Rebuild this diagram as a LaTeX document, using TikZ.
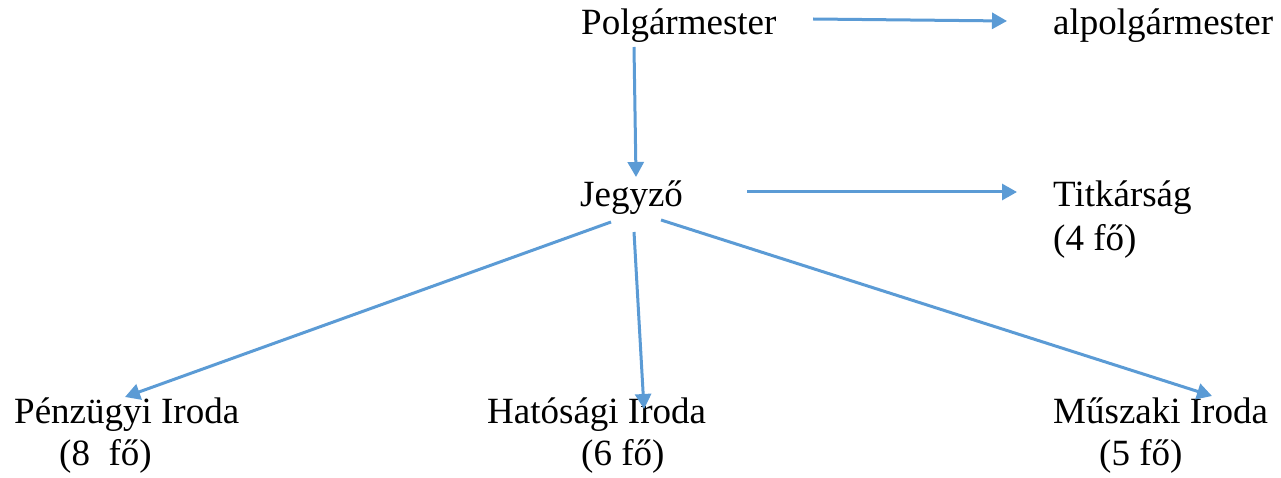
\documentclass[tikz,border=0pt]{standalone}
\usepackage{fontspec}
\setmainfont{Liberation Serif}
\usetikzlibrary{arrows.meta}
\definecolor{arrowblue}{RGB}{91,155,213}
\begin{document}
\begin{tikzpicture}[x=1pt,y=-1pt,
  lbl/.style={anchor=base west,inner sep=0pt,font=\fontsize{37}{42}\selectfont},
  arr/.style={draw=arrowblue,line width=3pt,-{Triangle[length=15pt,width=16pt]}}]
\useasboundingbox (0,0) rectangle (1281,478);
% labels
\node[lbl] (polg) at (581,35) {Polgármester};
\node[lbl] (alpolg) at (1053,35) {alpolgármester};
\node[lbl] (jegy) at (580,207) {Jegyző};
\node[lbl] (titk) at (1053,207) {Titkárság};
\node[lbl] (titk2) at (1053,251) {(4 fő)};
\node[lbl] (penz) at (14,423) {Pénzügyi Iroda};
\node[lbl] (penz2) at (59,465) {(8~ fő)};
\node[lbl] (hat) at (487,423) {Hatósági Iroda};
\node[lbl] (hat2) at (581,465) {(6 fő)};
\node[lbl] (musz) at (1053,423) {Műszaki Iroda};
\node[lbl] (musz2) at (1099,465) {(5 fő)};
% connector ends
\coordinate (pA) at (813,19);
\coordinate (aA) at (1007,21);
\coordinate (pB) at (634,47);
\coordinate (jB) at (636,177);
\coordinate (jC) at (747,192);
\coordinate (tC) at (1017,192);
\coordinate (jD) at (611,222);
\coordinate (pD) at (125,397);
\coordinate (jE) at (634,232);
\coordinate (hE) at (644,409);
\coordinate (jF) at (661,220);
\coordinate (mF) at (1212,396);
% connectors
\draw[arr] (pA) -- (aA);
\draw[arr] (pB) -- (jB);
\draw[arr] (jC) -- (tC);
\draw[arr] (jD) -- (pD);
\draw[arr] (jE) -- (hE);
\draw[arr] (jF) -- (mF);
\end{tikzpicture}
\end{document}
